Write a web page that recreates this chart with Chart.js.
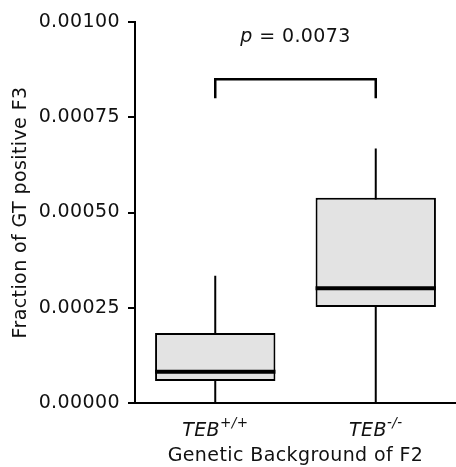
<!DOCTYPE html>
<html>
<head>
<meta charset="utf-8">
<script src="https://cdn.jsdelivr.net/npm/chart.js@4"></script>
<style>
html, body { margin: 0; padding: 0; background: #fff; }
#wrap { width: 456px; height: 467px; }
</style>
</head>
<body>
<div id="wrap"><canvas id="boxChart"></canvas></div>
<script>
// values
const categories = ['TEB+/+', 'TEB-/-'];
const labelBase = ['TEB', 'TEB'];
const labelSup = ['+/+', '-/-'];
const minValues = [0, 0];
const q1Values = [0.000058, 0.000252];
const medianValues = [0.000082, 0.000301];
const q3Values = [0.000184, 0.000539];
const maxValues = [0.000334, 0.000668];
const yTicks = [0, 0.00025, 0.0005, 0.00075, 0.001];
const bracketTop = 0.00085;
const bracketBottom = 0.0008;
const pText = ['p', ' = 0.0073'];

const FONT = "'DejaVu Sans', Verdana, sans-serif";
const SPACING = '0.4px';

// a little wider spacing, closer to the Verdana look of the original
const spacingPlugin = {
    id: 'spacing',
    beforeUpdate(chart) { chart.ctx.letterSpacing = SPACING; },
    beforeDraw(chart) { chart.ctx.letterSpacing = SPACING; }
};

const boxPlugin = {
    id: 'boxExtras',
    beforeDatasetsDraw(chart) {
        const ctx = chart.ctx, y = chart.scales.y;
        const bars = chart.getDatasetMeta(0).data;
        ctx.save();
        ctx.strokeStyle = '#000';
        ctx.lineWidth = 2;
        bars.forEach((b, i) => {
            ctx.beginPath();
            ctx.moveTo(b.x, y.getPixelForValue(minValues[i]));
            ctx.lineTo(b.x, y.getPixelForValue(maxValues[i]));
            ctx.stroke();
        });
        ctx.restore();
    },
    afterDatasetsDraw(chart) {
        const ctx = chart.ctx, y = chart.scales.y, x = chart.scales.x;
        const bars = chart.getDatasetMeta(0).data;
        ctx.save();
        ctx.strokeStyle = '#000';
        // medians
        ctx.lineWidth = 4;
        bars.forEach((b, i) => {
            const py = y.getPixelForValue(medianValues[i]);
            ctx.beginPath();
            ctx.moveTo(b.x - b.width / 2, py);
            ctx.lineTo(b.x + b.width / 2, py);
            ctx.stroke();
        });
        // significance bracket
        const x1 = bars[0].x, x2 = bars[1].x;
        const yt = y.getPixelForValue(bracketTop), yb = y.getPixelForValue(bracketBottom);
        ctx.lineWidth = 2.5;
        ctx.beginPath();
        ctx.moveTo(x1, yb);
        ctx.lineTo(x1, yt);
        ctx.lineTo(x2, yt);
        ctx.lineTo(x2, yb);
        ctx.stroke();
        // p value
        ctx.fillStyle = '#111';
        ctx.textBaseline = 'middle';
        ctx.textAlign = 'left';
        ctx.letterSpacing = SPACING;
        const fi = 'italic 19px ' + FONT, fr = '19px ' + FONT;
        ctx.font = fi; const w1 = ctx.measureText(pText[0]).width;
        ctx.font = fr; const w2 = ctx.measureText(pText[1]).width;
        const sx = (x1 + x2) / 2 - (w1 + w2) / 2;
        const py = y.getPixelForValue(0.00096);
        ctx.font = fi; ctx.fillText(pText[0], sx, py);
        ctx.font = fr; ctx.fillText(pText[1], sx + w1, py);
        // x tick labels with superscript
        const ly = 431;
        const fs = 'italic 13.5px ' + FONT;
        bars.forEach((b, i) => {
            const cx = x.getPixelForTick(i);
            ctx.font = fi; const a = ctx.measureText(labelBase[i]).width;
            ctx.font = fs; const s = ctx.measureText(labelSup[i]).width;
            const start = cx - (a + s) / 2;
            ctx.font = fi; ctx.fillText(labelBase[i], start, ly);
            ctx.font = fs; ctx.fillText(labelSup[i], start + a, ly - 8);
        });
        ctx.restore();
    }
};

new Chart(document.getElementById('boxChart').getContext('2d'), {
    type: 'bar',
    data: {
        labels: categories,
        datasets: [{
            data: q1Values.map((v, i) => [v, q3Values[i]]),
            backgroundColor: '#e3e3e3',
            borderColor: '#000',
            borderWidth: 2,
            borderSkipped: false,
            barPercentage: 0.75,
            categoryPercentage: 1
        }]
    },
    options: {
        responsive: true,
        maintainAspectRatio: false,
        animation: false,
        layout: { padding: { top: 22, right: -4, left: 0, bottom: 0 } },
        plugins: { legend: { display: false }, tooltip: { enabled: false } },
        scales: {
            x: {
                grid: { display: false },
                border: { display: true, color: '#000', width: 2 },
                ticks: { color: 'transparent', font: { size: 19, family: FONT } },
                title: {
                    display: true,
                    text: 'Genetic Background of F2',
                    color: '#111',
                    font: { size: 19, family: FONT },
                    padding: { top: 0, bottom: 0 }
                },
                afterFit(s) { s.height = 64; }
            },
            y: {
                min: 0,
                max: 0.001,
                afterBuildTicks(s) { s.ticks = yTicks.map(v => ({ value: v })); },
                grid: { display: true, drawOnChartArea: false, drawTicks: true, tickLength: 7, color: '#000', lineWidth: 2 },
                border: { display: true, color: '#000', width: 2 },
                ticks: {
                    color: '#111',
                    padding: 8,
                    font: { size: 19, family: FONT },
                    callback: v => v.toFixed(5)
                },
                title: {
                    display: true,
                    text: 'Fraction of GT positive F3',
                    color: '#111',
                    font: { size: 19, family: FONT },
                    padding: { top: 10, bottom: 0 }
                },
                afterFit(s) { s.width = 135; }
            }
        }
    },
    plugins: [spacingPlugin, boxPlugin]
});
</script>
</body>
</html>
